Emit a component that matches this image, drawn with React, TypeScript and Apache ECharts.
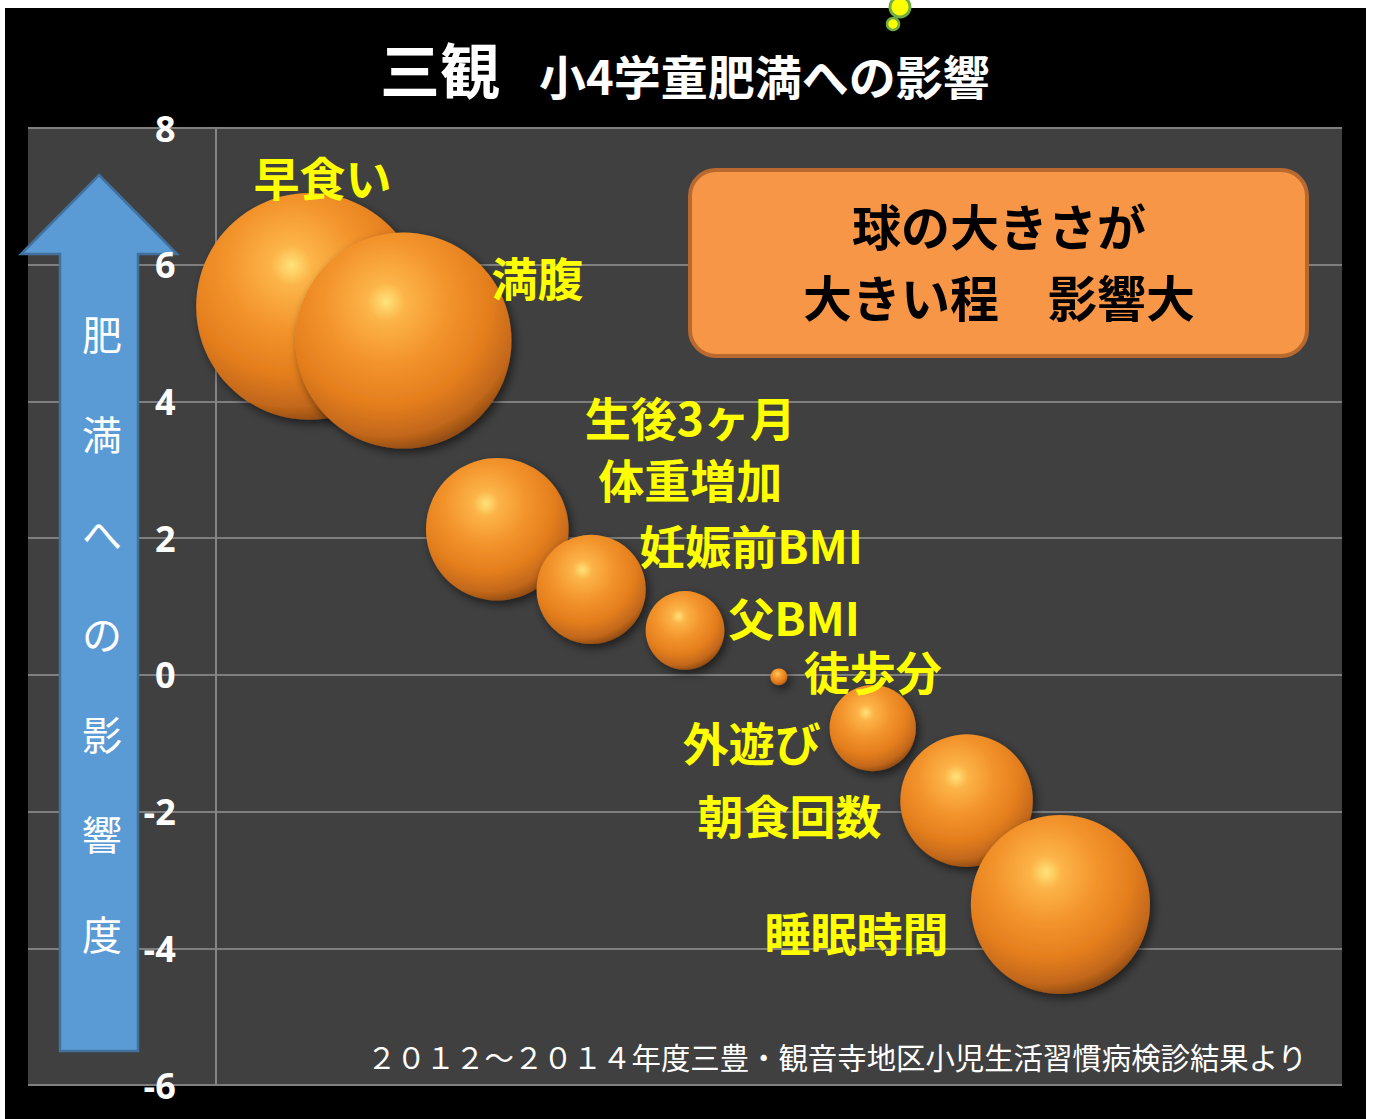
import React, { useEffect, useRef } from 'react';
import * as echarts from 'echarts';

// ---- data ----
const categories = ['早食い', '満腹', '生後3ヶ月\n体重増加', '妊娠前BMI', '父BMI', '徒歩分', '外遊び', '朝食回数', '睡眠時間'];
const xPositions = [1, 2, 3, 4, 5, 6, 7, 8, 9];
const effects = [5.39, 4.89, 2.13, 1.25, 0.65, -0.03, -0.78, -1.84, -3.36];
const bubbleSizes = [5.39, 4.89, 2.13, 1.25, 0.65, 0.03, 0.78, 1.84, 3.36];
const yMin = -6;
const yMax = 8;
const yStep = 2;
const xMin = -2;
const xMax = 12;

const titleMain = '三観';
const titleSub = '小4学童肥満への影響';
const arrowText = ['肥', '満', 'へ', 'の', '影', '響', '度'];
const noteLines = ['球の大きさが', '大きい程　影響大'];
const sourceText = '２０１２～２０１４年度三豊・観音寺地区小児生活習慣病検診結果より';

// ---- layout (label offsets from bubble centres, px) ----
const labelOffsets: [number, number][] = [
  [13, -130], [134, -65], [193, -82], [160, -45], [109, -14], [94, -7], [-121, 13], [-177, 13], [-204, 26],
];

const CJK = '"Noto Sans CJK JP", "Noto Sans CJK SC", sans-serif';

export default function App() {
  const ref = useRef<HTMLDivElement>(null);
  useEffect(() => {
    const chart = echarts.init(ref.current!, null, { renderer: 'svg' });
    const sphere = new echarts.graphic.RadialGradient(0.42, 0.32, 0.75, [
      { offset: 0, color: '#FFE37A' },
      { offset: 0.12, color: '#FCB448' },
      { offset: 0.38, color: '#F3942C' },
      { offset: 0.64, color: '#E47E1D' },
      { offset: 0.83, color: '#C2671A' },
      { offset: 0.94, color: '#8A4810' },
      { offset: 1, color: '#5A2E08' },
    ]);

    const data = categories.map((name, i) => ({
      name,
      value: [xPositions[i], effects[i], bubbleSizes[i]],
      label: { offset: labelOffsets[i] },
    }));

    const textZ = 20;
    const graphic: any[] = [
      // white page margins
      { type: 'rect', shape: { x: 0, y: 0, width: 1374, height: 8 }, style: { fill: '#ffffff' }, z: textZ, silent: true },
      { type: 'rect', shape: { x: 0, y: 0, width: 5, height: 1119 }, style: { fill: '#ffffff' }, z: textZ, silent: true },
      { type: 'rect', shape: { x: 1366, y: 0, width: 8, height: 1119 }, style: { fill: '#ffffff' }, z: textZ, silent: true },
      // decorative dots
      { type: 'circle', shape: { cx: 900, cy: 7, r: 10 }, style: { fill: '#FFFF00', stroke: '#70AD47', lineWidth: 3 }, z: textZ + 1 },
      { type: 'circle', shape: { cx: 893, cy: 24, r: 6 }, style: { fill: '#FFFF00', stroke: '#70AD47', lineWidth: 2.5 }, z: textZ + 1 },
      // titles
      {
        type: 'text', x: 380, y: 67, z: textZ,
        style: { text: titleMain, fill: '#ffffff', font: `bold 60px ${CJK}`, textAlign: 'left', textVerticalAlign: 'middle' },
      },
      {
        type: 'text', x: 539, y: 74, z: textZ,
        style: { text: titleSub, fill: '#ffffff', font: `bold 47px ${CJK}`, textAlign: 'left', textVerticalAlign: 'middle' },
      },
      // arrow
      {
        type: 'polygon', z: textZ,
        shape: { points: [[99, 175], [177, 254], [138, 254], [138, 1051], [60, 1051], [60, 254], [21, 254]] },
        style: { fill: '#5B9BD5', stroke: '#41719C', lineWidth: 2.5 },
      },
      ...arrowText.map((ch, i) => ({
        type: 'text', x: 102, y: 333 + i * 100, z: textZ + 1,
        style: { text: ch, fill: '#ffffff', font: `40px ${CJK}`, textAlign: 'center', textVerticalAlign: 'middle' },
      })),
      // note box
      {
        type: 'rect', z: textZ,
        shape: { x: 690, y: 170, width: 617, height: 186, r: 26 },
        style: { fill: '#F79646', stroke: '#B8692F', lineWidth: 4 },
      },
      ...noteLines.map((t, i) => ({
        type: 'text', x: 999, y: 224 + i * 71, z: textZ + 1,
        style: { text: t, fill: '#000000', font: `bold 49px ${CJK}`, textAlign: 'center', textVerticalAlign: 'middle' },
      })),
      // source
      {
        type: 'text', x: 367, y: 1056, z: textZ,
        style: { text: sourceText, fill: '#ffffff', font: `29.4px ${CJK}`, textAlign: 'left', textVerticalAlign: 'middle' },
      },
    ];

    const gridLeft = 28;
    const gridRight = 32;
    const plotWidth = 1374 - gridLeft - gridRight;
    const zeroOffset = ((0 - xMin) / (xMax - xMin)) * plotWidth; // distance from grid left to x = 0

    const option: any = {
      animation: false,
      backgroundColor: '#000000',
      grid: {
        left: gridLeft, right: gridRight, top: 128, bottom: 34,
        show: true, backgroundColor: '#404040', borderWidth: 0,
        containLabel: false, outerBoundsMode: 'none',
      },
      xAxis: {
        type: 'value', min: xMin, max: xMax, show: false,
        axisLine: { onZero: false }, splitLine: { show: false },
      },
      yAxis: [
        {
          type: 'value', min: yMin, max: yMax, interval: yStep,
          offset: -zeroOffset,
          axisLine: { show: true, onZero: false, lineStyle: { color: '#858585', width: 2 } },
          axisTick: { show: false },
          splitLine: { show: true, lineStyle: { color: '#7f7f7f', width: 2 } },
          axisLabel: { show: false },
          z: 0,
        },
        {
          type: 'value', min: yMin, max: yMax, interval: yStep,
          offset: -zeroOffset,
          position: 'left',
          axisLine: { show: false, onZero: false },
          axisTick: { show: false },
          splitLine: { show: false },
          axisLabel: {
            color: '#ffffff', fontSize: 36, fontWeight: 'bold', margin: 40,
            fontFamily: '"Open Sans", sans-serif',
          },
          z: 30,
        },
      ],
      series: [
        {
          type: 'scatter',
          data,
          yAxisIndex: 0,
          symbol: 'circle',
          symbolSize: (val: number[]) => 97.7 * Math.sqrt(val[2]),
          itemStyle: {
            color: sphere,
            shadowColor: 'rgba(0,0,0,0.55)',
            shadowBlur: 10,
            shadowOffsetX: 3,
            shadowOffsetY: 4,
            opacity: 1,
          },
          label: {
            show: true,
            position: 'inside',
            formatter: '{b}',
            color: '#FFFF00',
            fontSize: 46,
            fontWeight: 'bold',
            fontFamily: CJK,
            lineHeight: 62,
            align: 'center',
            verticalAlign: 'middle',
          },
          emphasis: { disabled: true },
          z: 3,
        },
      ],
      graphic,
    };
    chart.setOption(option);
    return () => chart.dispose();
  }, []);
  return <div ref={ref} style={{ position: 'absolute', left: 0, top: 0, width: 1374, height: 1119 }} />;
}
